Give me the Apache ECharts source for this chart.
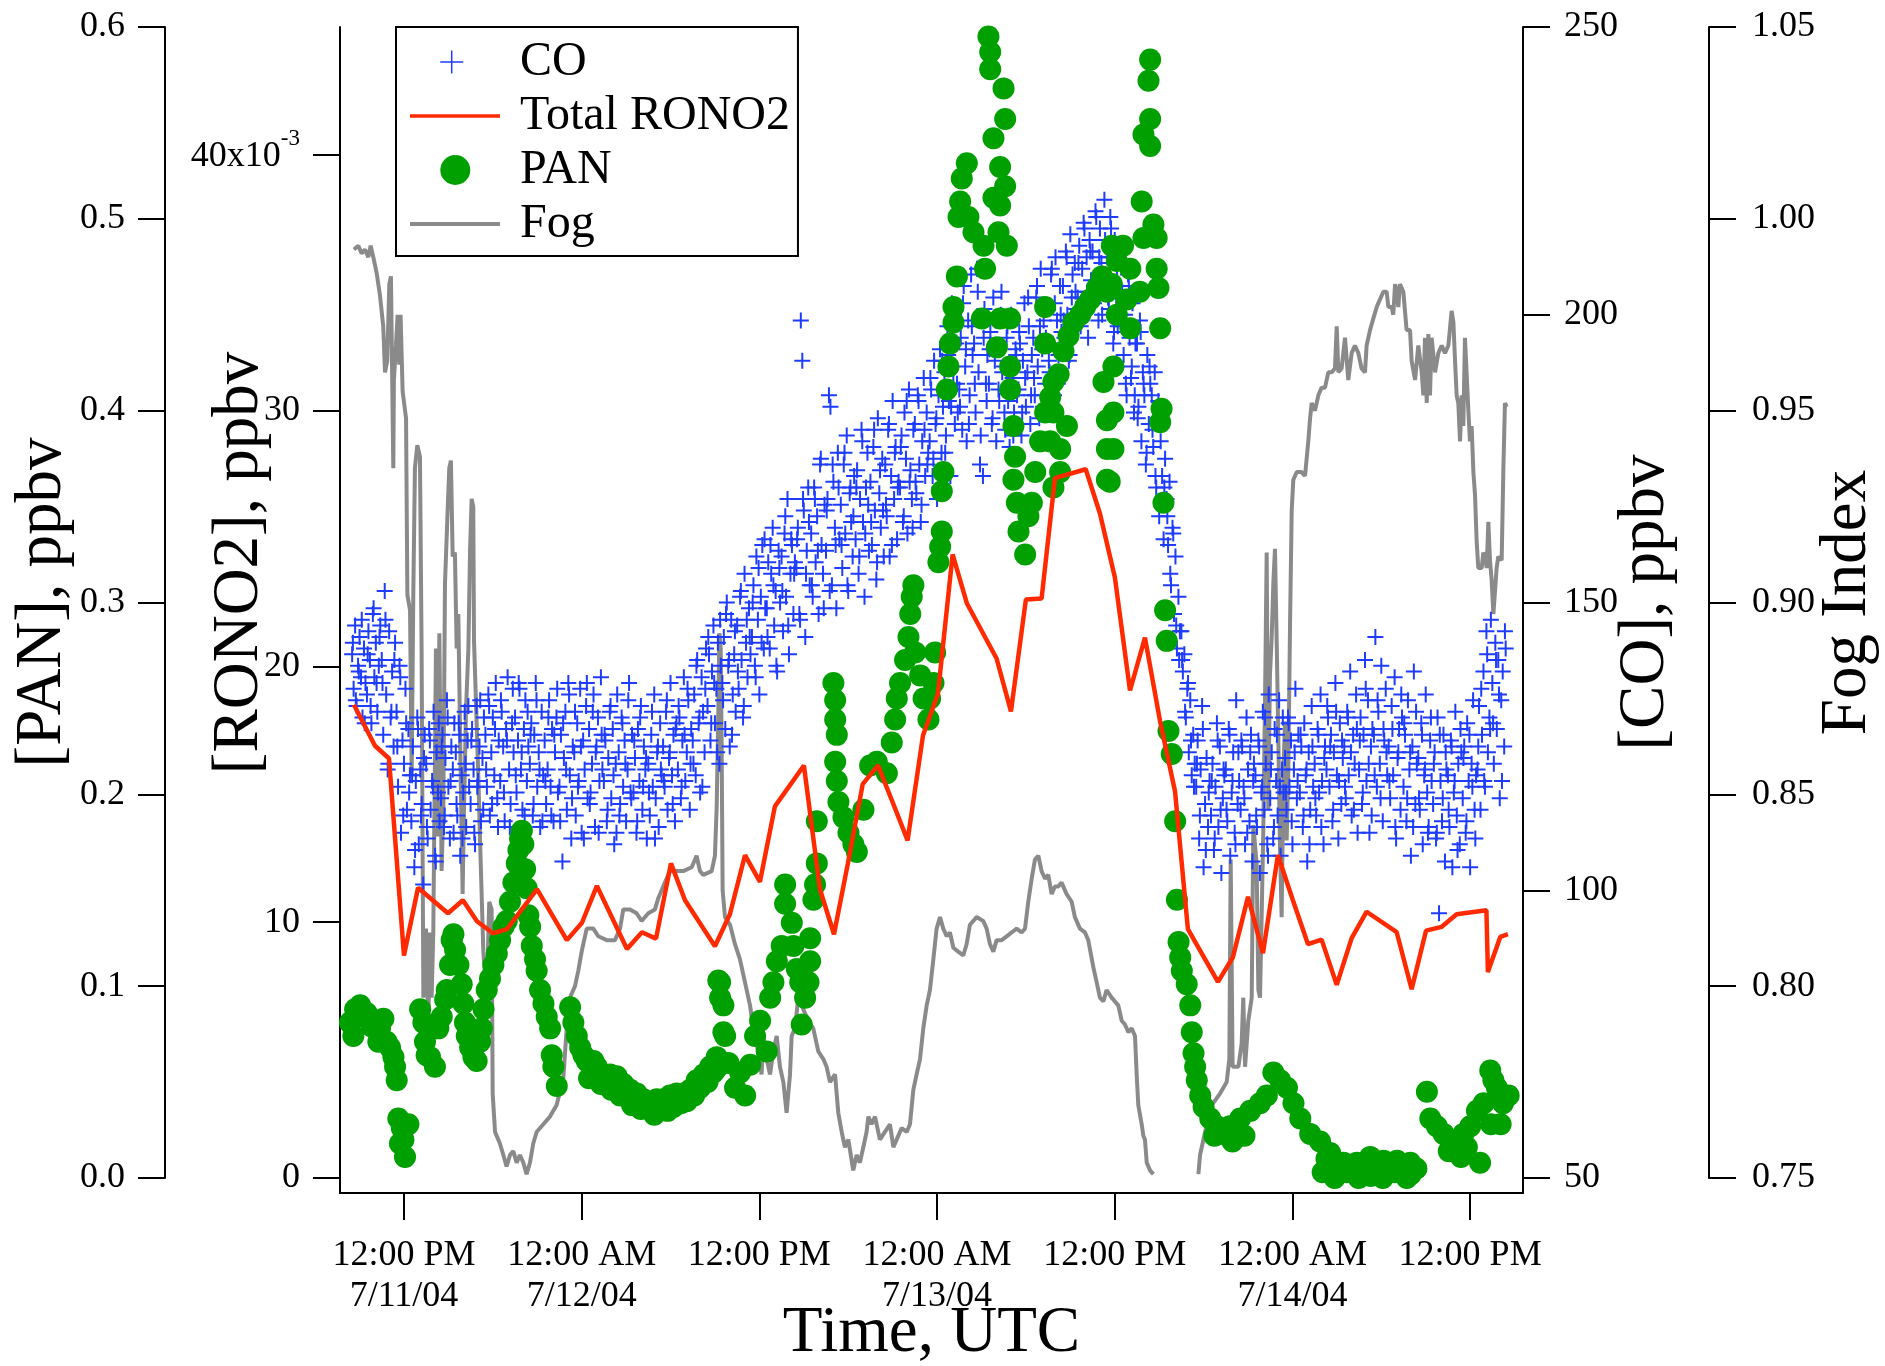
<!DOCTYPE html>
<html>
<head>
<meta charset="utf-8">
<title>CO, Total RONO2, PAN and Fog, 11-14 July 2004</title>
<script src="https://cdn.jsdelivr.net/npm/echarts@6.0.0/dist/echarts.min.js"></script>
<style>
  html, body { margin: 0; padding: 0; background: #fff; }
  #chart { width: 1885px; height: 1366px; }
</style>
</head>
<body>
<div id="chart"></div>
<script>
// time is in hours since 7/11/04 00:00 UTC
const timeTicks = [12, 24, 36, 48, 60, 72, 84];
const timeTickLabels = ['12:00 PM\n7/11/04', '12:00 AM\n7/12/04', '12:00 PM', '12:00 AM\n7/13/04',
  '12:00 PM', '12:00 AM\n7/14/04', '12:00 PM'];
const panTicks = [0, 0.1, 0.2, 0.3, 0.4, 0.5, 0.6];
const ronoTicks = [0, 10, 20, 30, 40];
const coTicks = [50, 100, 150, 200, 250];
const fogTicks = [0.75, 0.8, 0.85, 0.9, 0.95, 1.0, 1.05];

// CO, ppbv, one reading every 6 minutes from 8.5 h (one row per hour)
const coStart = 8.5;
const coStep = 0.1;
const coValues = [
  141,135,146,132,139,144,137,130,142,136,
  134,145,140,129,148,137,143,131,139,146,
  140,127,152,134,121,145,130,138,125,143,
  131,118,139,110,126,122,135,114,128,120,
  112,125,104,119,130,108,121,115,101,127,
  122,109,128,114,119,131,106,124,117,112,
  116,127,111,123,133,118,109,125,121,129,
  124,113,129,106,120,117,131,111,126,118,
  115,128,121,108,132,119,125,112,123,130,
  127,118,134,113,124,130,120,136,116,126,
  119,131,125,112,128,137,121,115,129,124,
  130,117,126,135,121,114,128,133,119,125,
  122,129,113,127,136,118,124,111,131,120,
  126,115,121,133,118,128,112,124,130,117,
  118,127,105,123,131,114,136,120,109,125,
  124,113,129,119,135,110,126,121,132,116,
  128,117,122,134,111,125,130,119,137,121,
  119,126,112,123,131,116,128,108,122,134,
  124,115,130,118,126,112,121,136,117,127,
  117,123,110,128,119,132,114,125,121,109,
  122,113,127,118,134,116,124,111,129,120,
  125,118,131,114,123,136,120,127,112,129,
  121,130,116,126,137,119,124,133,114,128,
  126,134,120,140,129,117,137,131,124,142,
  132,141,126,138,146,129,135,143,122,139,
  136,144,128,150,139,125,147,134,141,131,
  146,135,151,140,130,155,143,137,149,141,
  144,153,139,158,147,134,151,160,142,149,
  149,157,142,155,163,146,152,138,159,150,
  158,145,162,151,168,141,155,160,148,157,
  156,163,148,199,192,166,144,159,170,153,
  162,151,170,157,165,148,174,160,155,167,
  159,168,186,184,153,171,163,149,176,161,
  167,156,174,162,179,152,169,164,158,172,
  161,173,155,168,180,164,151,170,176,159,
  171,160,177,166,154,182,169,163,175,158,
  174,165,180,158,172,185,168,177,161,171,
  170,179,164,183,175,162,187,173,168,180,
  181,169,186,174,164,178,189,172,183,176,
  178,187,172,192,181,168,186,194,176,184,
  190,179,198,185,172,202,188,181,195,183,
  187,196,180,205,191,178,199,186,207,193,
  195,183,208,190,174,199,172,201,188,193,
  188,197,181,203,192,178,194,185,200,190,
  191,180,196,185,177,200,189,183,194,186,
  187,195,179,192,202,184,190,198,181,193,
  196,186,203,191,182,208,194,199,188,201,
  201,190,207,195,186,210,199,193,205,197,
  205,196,211,200,192,214,203,198,209,201,
  203,212,198,208,216,201,210,196,213,206,
  211,202,218,206,199,215,209,204,220,207,
  210,201,217,205,195,213,203,198,209,200,
  204,193,200,186,207,196,189,202,183,195,
  195,184,199,178,190,186,174,193,181,188,
  186,177,190,170,182,165,178,172,161,175,
  168,160,171,153,163,148,158,142,151,145,
  145,138,141,130,135,124,133,120,127,122,
  118,126,109,121,132,104,115,123,111,119,
  113,122,107,118,129,111,125,103,116,120,
  121,112,128,106,117,124,110,133,115,119,
  114,125,118,108,130,121,112,127,105,122,
  120,111,126,103,117,131,114,122,108,134,
  116,124,109,128,119,113,133,106,121,117,
  123,114,130,118,126,108,121,135,116,127,
  117,125,111,129,120,105,124,114,132,118,
  122,113,128,117,134,119,108,125,121,130,
  118,127,112,124,136,120,109,129,115,123,
  125,116,131,120,138,113,127,122,134,110,
  121,130,115,127,140,119,133,110,125,128,
  127,144,118,131,122,139,112,126,135,120,
  125,116,132,120,137,109,123,128,114,130,
  118,127,112,133,121,106,125,138,115,122,
  123,114,129,108,120,134,117,111,126,119,
  115,124,109,130,96,119,112,127,105,121,
  120,111,126,104,117,131,113,122,108,124,
  116,125,110,129,119,104,122,133,114,120,
  121,132,114,127,138,118,145,124,130,147,
  136,122,143,128,140,116,133,138,125,142
];

// second CO channel of readings, every 12 minutes from 8.55 h (one row per hour)
const coStartB = 8.55;
const coStepB = 0.2;
const coValuesB = [
  143,133,138,147,129,  141,132,149,136,144,  136,147,122,131,140,  125,137,113,129,117,
  120,107,128,113,123,  111,126,118,105,129,  125,113,130,119,110,  115,127,109,122,132,
  126,110,118,133,114,  121,132,115,128,111,  133,117,126,111,135,  120,136,124,113,131,
  127,115,133,121,112,  119,130,113,127,135,  112,129,121,134,116,  131,118,125,109,136,
  115,131,124,110,127,  127,114,132,120,110,  113,129,122,133,116,  126,112,130,118,123,
  117,131,109,125,121,  119,133,124,115,128,  132,118,127,135,122,  122,139,130,118,135,
  144,129,136,124,147,  133,148,140,127,145,  138,152,132,147,144,  150,137,156,143,161,
  144,160,153,139,156,  152,165,146,161,155,  161,147,168,155,164,  153,168,159,175,149,
  166,152,174,160,170,  160,176,153,170,165,  170,158,178,162,167,  164,180,157,173,166,
  167,181,160,176,170,  177,165,185,171,163,  171,185,167,180,174,  189,175,182,170,192,
  176,193,184,200,188,  184,202,194,181,198,  188,204,179,196,185,  194,182,199,187,204,
  183,198,188,179,193,  197,183,189,203,186,  189,205,198,184,196,  192,208,202,188,200,
  199,210,193,207,204,  209,199,215,204,211,  204,217,210,200,213,  203,215,197,208,211,
  198,188,205,191,186,  182,197,188,176,191,  180,172,185,167,170,  165,155,162,146,140,
  140,131,136,126,118,  122,113,128,107,117,  119,109,126,114,121,  114,127,119,108,124,
  126,116,110,124,119,  113,125,118,130,106,  121,111,127,118,130,  117,129,112,124,119,
  127,113,121,108,125,  116,127,111,123,132,  125,114,131,119,126,  118,130,124,114,128,
  126,117,135,122,113,  120,133,116,128,124,  119,128,111,124,134,  129,116,124,111,131,
  116,127,121,110,130,  122,110,127,116,124,  114,125,119,107,128,  123,112,127,118,109,
  125,135,119,141,128,  129,140,134,119,145
];

// Total RONO2, ppbv: [hour, value]
const ronoData = [
  [8.62,18.5],[10.04,16.9],[10.99,16.4],[12.0,8.7],[12.95,11.35],[14.97,10.35],[15.98,10.86],
  [16.93,10.04],[18.01,9.57],[18.96,9.73],[20.98,11.29],[23.0,9.3],[24.02,9.98],[25.03,11.42],
  [27.06,8.95],[28.07,9.61],[29.02,9.36],[30.03,12.3],[30.98,10.86],[33.0,9.06],[34.01,10.31],
  [35.03,12.62],[36.04,11.58],[37.05,14.53],[39.01,16.13],[40.09,11.29],[41.04,9.53],[41.98,12.3],
  [42.98,15.4],[44.01,16.13],[45.02,14.66],[46.01,13.2],[47.05,17.3],[48.06,18.93],[49.05,24.38],
  [50.02,22.46],[52.02,20.31],[52.99,18.24],[54.0,22.62],[55.06,22.66],[55.96,27.36],[58.04,27.71],
  [59.0,25.98],[60.01,23.48],[61.03,19.06],[62.04,21.13],[63.05,17.89],[64.07,15.12],[64.94,9.73],
  [66.97,7.67],[67.98,8.63],[69.0,10.99],[70.01,8.79],[71.02,12.62],[72.03,10.86],[73.05,9.14],
  [73.97,9.32],[74.99,7.55],[76.0,9.38],[77.01,10.41],[79.04,9.61],[80.05,7.38],[81.02,9.67],
  [82.08,9.82],[83.09,10.31],[85.1,10.47],[85.2,8.05],[86.04,9.43],[86.55,9.53]
];

// PAN, ppbv: [hour, value]
const panData = [
  [8.35,0.081],[8.58,0.074],[8.70,0.088],[9.04,0.090],[9.26,0.084],[9.48,0.086],[9.82,0.079],
  [10.16,0.081],[10.27,0.071],[10.38,0.078],[10.61,0.083],[10.83,0.071],[11.06,0.068],[11.29,0.063],
  [11.40,0.058],[11.51,0.051],[11.62,0.031],[11.73,0.018],[11.85,0.026],[11.96,0.020],[12.07,0.011],
  [12.30,0.028],[13.09,0.088],[13.31,0.081],[13.42,0.071],[13.53,0.064],[13.76,0.063],[14.09,0.058],
  [14.32,0.078],[14.55,0.084],[14.78,0.093],[14.89,0.098],[15.11,0.111],[15.22,0.124],[15.34,0.127],
  [15.45,0.119],[15.68,0.111],[15.90,0.101],[16.01,0.091],[16.12,0.081],[16.24,0.074],[16.47,0.068],
  [16.69,0.063],[16.91,0.061],[17.14,0.071],[17.25,0.078],[17.37,0.088],[17.59,0.098],[17.81,0.104],
  [18.04,0.111],[18.27,0.117],[18.49,0.124],[18.72,0.131],[18.94,0.134],[19.16,0.144],[19.39,0.154],
  [19.62,0.164],[19.73,0.171],[19.84,0.177],[19.96,0.181],[20.06,0.174],[20.18,0.161],[20.29,0.151],
  [20.40,0.137],[20.52,0.131],[20.63,0.121],[20.85,0.114],[20.96,0.108],[21.19,0.098],[21.42,0.091],
  [21.64,0.084],[21.87,0.078],[21.98,0.064],[22.09,0.058],[22.32,0.048],
  [23.22,0.089],[23.44,0.081],[23.67,0.074],[23.90,0.068],[24.12,0.064],[24.34,0.061],[24.5,0.052],
  [24.80,0.061],[25.02,0.058],[25.3,0.049],[25.47,0.054],[25.92,0.054],[26.0,0.046],[26.37,0.053],
  [26.6,0.043],[26.82,0.049],[27.27,0.046],[27.4,0.038],[27.72,0.044],[28.0,0.036],[28.17,0.041],
  [28.62,0.038],[28.9,0.033],[29.08,0.041],[29.3,0.036],[29.52,0.041],[29.8,0.035],[29.97,0.043],
  [30.2,0.037],[30.42,0.044],[30.7,0.039],[30.87,0.044],[31.1,0.040],[31.33,0.046],[31.6,0.043],
  [31.77,0.051],[32.0,0.047],[32.23,0.054],[32.5,0.050],[32.67,0.058],[32.9,0.055],[33.1,0.057],
  [33.12,0.063],[33.23,0.103],[33.35,0.094],[33.57,0.076],
  [33.35,0.102],[33.57,0.090],[33.69,0.074],[33.91,0.060],[34.36,0.047],[34.70,0.055],[35.04,0.043],
  [35.38,0.059],[35.71,0.074],[36.05,0.082],[36.50,0.066],[36.73,0.094],[36.95,0.102],[37.18,0.113],
  [37.51,0.121],[37.74,0.143],[37.74,0.153],[38.19,0.133],[38.30,0.121],[38.53,0.109],[38.76,0.102],
  [38.86,0.080],[39.09,0.094],[39.32,0.102],[39.43,0.113],[39.43,0.125],[39.65,0.145],[39.76,0.153],
  [39.88,0.164],[39.88,0.186],
  [41.00,0.258],[41.12,0.249],[41.12,0.239],[41.23,0.231],[41.12,0.217],[41.23,0.207],[41.34,0.196],
  [41.68,0.188],[42.02,0.180],[42.35,0.174],[42.58,0.170],[43.03,0.192],[43.48,0.215],[43.93,0.217],
  [44.61,0.211],[44.94,0.227],[45.17,0.239],[45.28,0.250],[45.50,0.258],[45.84,0.270],[46.07,0.282],
  [46.19,0.294],[46.29,0.303],[46.40,0.309],[46.52,0.274],[46.86,0.262],[47.09,0.250],[47.42,0.239],
  [47.53,0.250],[47.76,0.258],[47.87,0.274],[48.09,0.321],[48.21,0.329],[48.32,0.337],[48.32,0.358],
  [48.43,0.368],[48.66,0.411],[48.77,0.423],[48.88,0.435],[49.11,0.446],[49.11,0.454],[49.34,0.470],
  [49.45,0.501],[49.56,0.509],[49.67,0.521],[50.01,0.529],[50.12,0.501],[50.46,0.493],[51.03,0.448],
  [51.14,0.486],[51.24,0.474],[51.47,0.595],[51.59,0.587],[51.59,0.578],[51.81,0.542],[51.81,0.511],
  [52.04,0.433],[52.15,0.493],[52.26,0.527],[52.26,0.507],[52.26,0.448],[52.49,0.568],[52.60,0.552],
  [52.60,0.517],[52.71,0.486],[52.93,0.448],[52.93,0.423],[52.93,0.411],[53.16,0.392],[53.16,0.364],
  [53.27,0.376],[53.39,0.352],[53.50,0.337],[53.95,0.325],[54.17,0.345],[54.40,0.352],[54.63,0.368],
  [54.96,0.384],[55.30,0.399],[55.30,0.454],[55.30,0.435],[55.64,0.407],[55.64,0.384],[55.86,0.415],
  [55.86,0.399],[55.86,0.360],[56.21,0.419],[56.31,0.380],[56.31,0.368],[56.54,0.431],[56.77,0.392],
  [56.88,0.439],[57.21,0.446],[57.67,0.450],[58.00,0.454],[58.34,0.458],[58.80,0.464],[59.13,0.470],
  [59.24,0.415],[59.47,0.462],[59.47,0.395],[59.47,0.380],[59.47,0.364],[59.80,0.466],[59.80,0.486],
  [59.66,0.363],[59.91,0.423],[59.91,0.399],[59.91,0.380],[60.14,0.478],[60.14,0.450],[60.56,0.486],
  [60.80,0.458],[61.05,0.474],[61.05,0.443],[61.69,0.462],[61.82,0.509],[61.94,0.544],[61.94,0.490],
  [62.28,0.572],[62.39,0.583],[62.39,0.552],[62.39,0.538],[62.61,0.497],[62.83,0.490],[62.83,0.474],
  [62.95,0.464],[63.07,0.443],[63.07,0.394],[63.16,0.401],[63.29,0.352],[63.40,0.296],[63.51,0.280],
  [63.63,0.233],[63.85,0.221],[64.08,0.186],[64.20,0.145],[64.31,0.123],[64.42,0.115],[64.53,0.108],
  [64.86,0.101],[65.10,0.090],[65.20,0.076],[65.32,0.065],[65.43,0.058],[65.54,0.051],[65.77,0.043],
  [66.00,0.037],[66.45,0.031],[66.73,0.022],[66.89,0.027],[67.35,0.023],[67.78,0.027],[67.95,0.019],
  [68.47,0.031],[68.76,0.022],[69.15,0.035],[69.81,0.039],[70.27,0.043],[70.71,0.055],[71.17,0.051],
  [71.63,0.047],[72.07,0.039],[72.53,0.031],[73.20,0.023],[73.87,0.019],[74.04,0.003],[74.3,0.010],
  [74.55,0.013],[74.85,0.000],[75.0,0.006],[75.45,0.008],[75.66,0.003],[76.0,0.004],[76.35,0.008],
  [76.47,0.000],[76.8,0.006],[77.25,0.011],[77.28,0.001],[77.6,0.004],[78.10,0.000],[78.15,0.009],
  [78.5,0.006],[78.91,0.003],[79.06,0.009],[79.4,0.004],[79.72,0.000],[79.96,0.008],[80.0,0.002],
  [80.37,0.005],[81.08,0.045],[81.31,0.031],[81.75,0.027],[82.21,0.023],[82.56,0.014],[82.89,0.019],
  [83.38,0.011],[83.54,0.023],[83.78,0.016],[84.01,0.027],[84.46,0.035],[84.67,0.008],[84.91,0.039],
  [85.36,0.056],[85.41,0.028],[85.57,0.051],[85.81,0.047],[86.06,0.028],[86.22,0.039],[86.60,0.043]
];

// Fog index: [hour, value], null where the record is missing
const fogData = [
  [8.62,0.992],[8.92,0.993],[9.14,0.991],[9.37,0.992],[9.59,0.990],[9.75,0.993],[9.93,0.990],
  [10.15,0.986],[10.38,0.980],[10.60,0.972],[10.72,0.960],[10.87,0.963],[11.01,0.983],[11.12,0.985],
  [11.28,0.935],[11.32,0.958],[11.46,0.967],[11.57,0.975],[11.68,0.962],[11.77,0.975],[11.91,0.955],
  [12.14,0.948],[12.23,0.902],[12.41,0.898],[12.52,0.855],[12.63,0.902],[12.74,0.935],[12.90,0.941],
  [13.08,0.938],[13.19,0.888],[13.31,0.797],[13.49,0.815],[13.64,0.789],[13.76,0.814],[13.87,0.797],
  [13.98,0.814],[14.16,0.888],[14.25,0.839],[14.39,0.892],[14.54,0.830],[14.66,0.847],[14.77,0.905],
  [14.93,0.922],[15.06,0.935],[15.17,0.937],[15.29,0.912],[15.44,0.913],[15.56,0.888],[15.67,0.897],
  [15.83,0.855],[15.96,0.824],[16.05,0.845],[16.19,0.872],[16.35,0.888],[16.46,0.913],[16.57,0.927],
  [16.68,0.925],[16.73,0.890],[16.86,0.890],[17.02,0.855],[17.13,0.839],[17.36,0.809],[17.58,0.797],
  [17.76,0.822],[17.92,0.820],[17.99,0.772],[18.15,0.762],[18.48,0.759],[18.71,0.756],[18.93,0.753],
  [19.16,0.756],[19.38,0.757],[19.61,0.754],[19.83,0.756],[20.06,0.754],[20.28,0.751],[20.51,0.754],
  [20.73,0.759],[20.96,0.762],[21.41,0.764],[21.86,0.766],[22.31,0.769],[22.76,0.776],[22.99,0.789],
  [23.21,0.797],[23.55,0.800],[23.77,0.804],[24.00,0.809],[24.11,0.811],[24.34,0.815],[24.79,0.815],
  [25.12,0.813],[25.69,0.812],[26.25,0.812],[26.59,0.815],[26.81,0.820],[27.26,0.820],[27.71,0.819],
  [28.05,0.817],[28.50,0.819],[28.95,0.820],[29.18,0.823],[29.51,0.826],[29.96,0.830],[30.86,0.830],
  [31.43,0.831],[31.76,0.834],[31.99,0.830],[32.21,0.829],[32.78,0.830],[33.00,0.834],[33.12,0.847],
  [33.23,0.872],[33.30,0.892],[33.39,0.888],[33.45,0.864],[33.52,0.825],
  [33.68,0.818],[34.02,0.816],[34.35,0.811],[34.69,0.807],[35.03,0.801],[35.37,0.795],[35.59,0.789],
  [35.82,0.785],[36.15,0.777],[36.27,0.787],[36.49,0.781],[36.72,0.777],[36.94,0.783],[37.17,0.787],
  [37.39,0.779],[37.62,0.775],[37.84,0.767],[38.07,0.777],[38.18,0.787],[38.40,0.789],[38.63,0.797],
  [38.85,0.795],[39.08,0.793],[39.31,0.791],[39.64,0.789],[39.98,0.783],[40.32,0.781],[40.54,0.779],
  [40.77,0.775],[41.11,0.777],[41.33,0.767],[41.56,0.762],[41.78,0.758],[42.01,0.760],[42.34,0.752],
  [42.57,0.756],[42.79,0.754],[43.02,0.758],[43.24,0.762],[43.36,0.766],[43.58,0.764],[43.81,0.766],
  [44.14,0.760],[44.48,0.762],[44.82,0.764],[45.05,0.758],[45.27,0.760],[45.61,0.763],[45.95,0.762],
  [46.17,0.764],[46.40,0.773],[46.62,0.777],[46.85,0.781],[47.07,0.789],[47.30,0.795],[47.52,0.799],
  [47.75,0.807],[47.97,0.815],[48.20,0.818],[48.42,0.815],[48.65,0.813],[48.87,0.814],[49.10,0.810],
  [49.43,0.809],[49.77,0.808],[50.00,0.811],[50.22,0.816],[50.45,0.817],[50.67,0.818],[51.12,0.817],
  [51.35,0.815],[51.57,0.811],[51.80,0.809],[52.02,0.812],[52.36,0.812],[52.70,0.813],[53.04,0.814],
  [53.37,0.815],[53.71,0.814],[53.94,0.815],[54.16,0.822],[54.39,0.828],[54.61,0.833],[54.84,0.834],
  [55.06,0.830],[55.29,0.828],[55.51,0.829],[55.74,0.824],[55.96,0.826],[56.19,0.826],[56.41,0.827],
  [56.75,0.824],[57.09,0.822],[57.31,0.818],[57.65,0.815],[57.99,0.814],[58.21,0.812],[58.55,0.805],
  [58.78,0.801],[59.00,0.797],[59.23,0.796],[59.45,0.799],[59.79,0.797],
  [60.24,0.795],[60.47,0.791],[60.69,0.790],[60.92,0.788],[61.14,0.789],[61.37,0.787],[61.48,0.777],
  [61.59,0.769],[61.82,0.764],[61.93,0.761],[62.04,0.760],[62.16,0.754],[62.38,0.752],[62.61,0.751],
  [62.75,null],
  [65.65,0.751],[65.76,0.756],[66.10,0.762],[66.55,0.769],[67.11,0.772],[67.56,0.775],[67.74,0.781],
  [67.83,0.833],[67.96,0.779],[68.35,0.779],[68.57,0.785],[68.68,0.797],[68.80,0.779],[69.02,0.791],
  [69.25,0.797],[69.36,0.842],[69.58,0.832],[69.70,0.799],[69.81,0.797],[69.92,0.818],[70.03,0.840],
  [70.15,0.875],[70.26,0.913],[70.37,0.846],[70.48,0.881],[70.60,0.891],[70.71,0.905],[70.82,0.914],
  [70.94,0.889],[71.05,0.864],[71.16,0.836],[71.27,0.818],[71.39,0.856],[71.50,0.869],[71.61,0.838],
  [71.72,0.856],[71.84,0.895],[71.95,0.924],[72.06,0.932],[72.29,0.934],[72.62,0.934],[72.85,0.933],
  [73.07,0.942],[73.19,0.948],[73.30,0.952],[73.52,0.950],[73.75,0.954],[73.97,0.956],[74.20,0.956],
  [74.42,0.960],[74.65,0.960],[74.87,0.961],[74.99,0.972],[75.10,0.960],[75.32,0.961],[75.55,0.969],
  [75.77,0.958],[76.00,0.965],[76.22,0.967],[76.45,0.965],[76.67,0.961],[76.90,0.960],[77.01,0.967],
  [77.24,0.971],[77.46,0.974],[77.69,0.977],[77.91,0.979],[78.14,0.981],[78.36,0.981],[78.48,0.977],
  [78.70,0.977],[78.81,0.975],[78.93,0.983],[79.04,0.981],[79.15,0.977],[79.26,0.983],[79.49,0.981],
  [79.71,0.971],[79.94,0.971],[80.05,0.963],[80.28,0.958],[80.50,0.967],[80.73,0.960],[80.84,0.954],
  [80.95,0.969],[81.07,0.952],[81.18,0.970],[81.29,0.954],[81.40,0.969],[81.63,0.960],[81.85,0.965],
  [82.08,0.967],[82.30,0.965],[82.53,0.967],[82.75,0.976],[82.87,0.973],[82.98,0.963],[83.09,0.954],
  [83.20,0.952],[83.32,0.942],[83.43,0.954],[83.54,0.946],[83.65,0.969],[83.77,0.969],[83.88,0.950],
  [83.99,0.942],[84.10,0.946],[84.22,0.934],[84.33,0.928],[84.44,0.916],[84.55,0.909],[84.78,0.909],
  [84.89,0.913],[85.00,0.912],[85.12,0.909],[85.23,0.921],[85.34,0.911],[85.45,0.906],[85.57,0.897],
  [85.68,0.903],[85.79,0.909],[85.90,0.912],[86.02,0.912],[86.13,0.911],[86.24,0.934],[86.35,0.952],
  [86.47,0.951]
];

const coData = coValues.map((v, i) => [coStart + i * coStep, v])
  .concat(coValuesB.map((v, i) => [coStartB + i * coStepB, v]));

const FONT = "'Liberation Serif', 'Times New Roman', serif";
const BLUE = '#1e3cff';
const RED = '#ff2a00';
const GREEN = '#00a000';
const GRAY = '#8a8a8a';
const PLUS = 'path://M0,7H16V9H0Z M7,0H9V16H7Z';

function yAxis(opt) {
  return Object.assign({
    type: 'value',
    nameLocation: 'middle',
    nameMoveOverlap: false,
    nameTextStyle: { fontFamily: FONT, fontSize: 65, color: '#000' },
    splitLine: { show: false },
    axisLine: { show: true, onZero: false, lineStyle: { color: '#000', width: 2 } },
    axisTick: { show: true, length: 27, lineStyle: { color: '#000', width: 2 } },
    axisLabel: { fontFamily: FONT, fontSize: 36, color: '#000', margin: 40 }
  }, opt);
}

const chart = echarts.init(document.getElementById('chart'));
chart.setOption({
  animation: false,
  backgroundColor: '#fff',
  grid: { left: 340, right: 362, top: 27, bottom: 188, containLabel: false, outerBoundsMode: 'none' },
  legend: {
    orient: 'vertical',
    left: 396,
    top: 27,
    itemWidth: 105,
    itemHeight: 30,
    itemGap: 0,
    padding: [8, 8, 5, 14],
    borderColor: '#000',
    borderWidth: 2,
    selectedMode: false,
    textStyle: { fontFamily: FONT, fontSize: 48, lineHeight: 54, color: '#000' },
    data: [
      { name: 'CO', icon: 'path://M0,0M105,30M30.2,14.25H53.2V15.75H30.2Z M40.95,3.5H42.45V26.5H40.95Z',
        itemStyle: { color: BLUE, borderWidth: 0 } },
      { name: 'Total RONO2', icon: 'path://M0,0M105,30M0,13.3H90V16.7H0Z',
        itemStyle: { color: RED, borderWidth: 0 } },
      { name: 'PAN', icon: 'path://M0,0M105,30M30.3,15A15,15,0,1,1,60.3,15A15,15,0,1,1,30.3,15Z',
        itemStyle: { color: GREEN, borderWidth: 0 } },
      { name: 'Fog', icon: 'path://M0,0M105,30M0,13H90V17H0Z',
        itemStyle: { color: GRAY, borderWidth: 0 } }
    ]
  },
  xAxis: {
    type: 'value',
    min: 7.68,
    max: 87.57,
    position: 'bottom',
    offset: 15,
    name: 'Time, UTC',
    nameLocation: 'middle',
    nameMoveOverlap: false,
    nameGap: 108,
    nameTextStyle: { fontFamily: FONT, fontSize: 65, color: '#000' },
    splitLine: { show: false },
    axisLine: { show: true, onZero: false, lineStyle: { color: '#000', width: 2 } },
    axisTick: { show: true, length: 27, customValues: timeTicks, lineStyle: { color: '#000', width: 2 } },
    axisLabel: {
      customValues: timeTicks,
      fontFamily: FONT, fontSize: 36, lineHeight: 41, color: '#000', margin: 42,
      formatter: function (v) {
        const i = timeTicks.findIndex(t => Math.abs(t - v) < 1e-6);
        return i >= 0 ? timeTickLabels[i] : '';
      }
    }
  },
  yAxis: [
    yAxis({
      name: '[PAN], ppbv', position: 'left', offset: 175, nameGap: 90, min: 0, max: 0.6,
      axisTick: { show: true, length: 27, customValues: panTicks, lineStyle: { color: '#000', width: 2 } },
      axisLabel: { customValues: panTicks, fontFamily: FONT, fontSize: 36, color: '#000', margin: 40,
        formatter: v => v.toFixed(1) }
    }),
    yAxis({
      name: '[RONO2], ppbv', position: 'left', offset: 0, nameGap: 68, min: 0, max: 45,
      nameTextStyle: { fontFamily: FONT, fontSize: 65, color: '#000', padding: [0, 0, 0, 79] },
      axisTick: { show: true, length: 27, customValues: ronoTicks, lineStyle: { color: '#000', width: 2 } },
      axisLabel: { customValues: ronoTicks, fontFamily: FONT, fontSize: 36, color: '#000', margin: 40,
        formatter: v => v === 40 ? '{m|40x10}{s|-3}' : String(v),
        rich: {
          m: { fontFamily: FONT, fontSize: 36, lineHeight: 40, color: '#000', verticalAlign: 'bottom' },
          s: { fontFamily: FONT, fontSize: 23, lineHeight: 16, color: '#000', verticalAlign: 'bottom',
            padding: [0, 0, 24, 0] }
        } }
    }),
    yAxis({
      name: '[CO], ppbv', position: 'right', offset: 0, nameGap: 90, min: 50, max: 250,
      axisTick: { show: true, length: 27, customValues: coTicks, lineStyle: { color: '#000', width: 2 } },
      axisLabel: { customValues: coTicks, fontFamily: FONT, fontSize: 36, color: '#000', margin: 41 }
    }),
    yAxis({
      name: 'Fog Index', position: 'right', offset: 186, nameGap: 106, min: 0.75, max: 1.05,
      axisTick: { show: true, length: 27, customValues: fogTicks, lineStyle: { color: '#000', width: 2 } },
      axisLabel: { customValues: fogTicks, fontFamily: FONT, fontSize: 36, color: '#000', margin: 43,
        formatter: v => v.toFixed(2) }
    })
  ],
  // the RONO2 and CO axis lines run down to the offset time axis
  graphic: [
    { type: 'line', silent: true, shape: { x1: 340, y1: 1177, x2: 340, y2: 1194 },
      style: { stroke: '#000', lineWidth: 2 } },
    { type: 'line', silent: true, shape: { x1: 1523, y1: 1177, x2: 1523, y2: 1194 },
      style: { stroke: '#000', lineWidth: 2 } }
  ],
  series: [
    {
      name: 'Fog', type: 'line', yAxisIndex: 3, data: fogData, z: 1,
      symbol: 'none', connectNulls: false,
      lineStyle: { color: GRAY, width: 4 }, itemStyle: { color: GRAY }
    },
    {
      name: 'CO', type: 'scatter', yAxisIndex: 2, data: coData, z: 2,
      symbol: PLUS, symbolSize: 16, itemStyle: { color: BLUE, opacity: 1 }
    },
    {
      name: 'PAN', type: 'scatter', yAxisIndex: 0, data: panData, z: 3,
      symbol: 'circle', symbolSize: 22, itemStyle: { color: GREEN, opacity: 1 }
    },
    {
      name: 'Total RONO2', type: 'line', yAxisIndex: 1, data: ronoData, z: 4,
      symbol: 'none', lineStyle: { color: RED, width: 4.5 }, itemStyle: { color: RED }
    }
  ]
});
</script>
</body>
</html>
